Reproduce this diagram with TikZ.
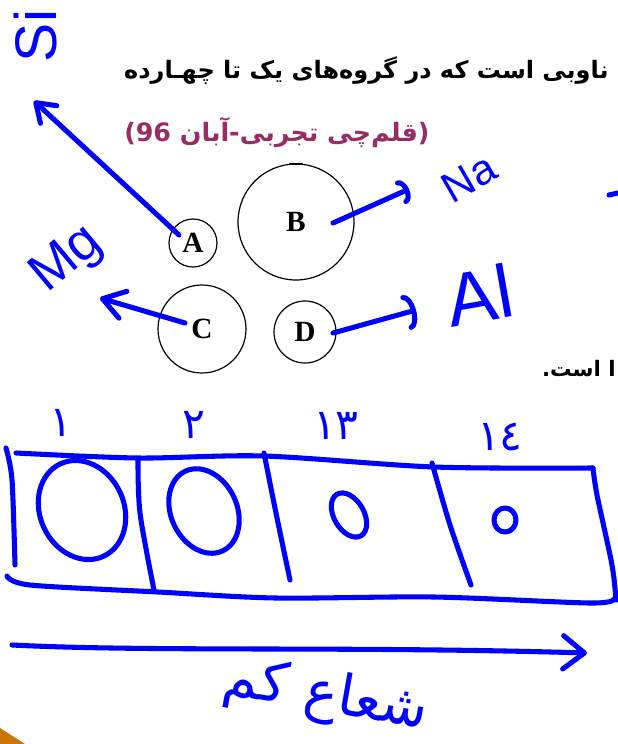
\documentclass[tikz,border=0pt]{standalone}
\usepackage{fontspec}
\usepackage{xcolor}
\usepackage{tikz}
\usetikzlibrary{arrows.meta}
\setmainfont{Liberation Serif}
\newfontfamily\farsi[Script=Arabic]{DejaVu Sans}
\newfontfamily\hand{Liberation Sans}
\TeXXeTstate=1
\definecolor{penblue}{RGB}{0,0,255}
\definecolor{quizpurple}{RGB}{150,45,100}
\definecolor{pageorange}{RGB}{205,115,10}

\begin{document}
\begin{tikzpicture}[x=0.75pt,y=-0.75pt,
  pen/.style={penblue,line width=3.8pt,line cap=round,line join=round},
  barb/.style 2 args={-{Straight Barb[length=#1,width=#2,round]}},
  arcbarb/.style 2 args={-{Arc Barb[length=#1,width=#2,round]}},
  atom/.style={draw,circle,inner sep=0pt,line width=0.9pt,font=\fontsize{22}{22}\selectfont\bfseries},
  scrawl/.style={text=penblue,inner sep=0pt,font=\hand\fontsize{#1}{#1}\selectfont},
  digit/.style={text=penblue,inner sep=0pt,font=\farsi\fontsize{32}{32}\selectfont}]
\useasboundingbox (0,0) rectangle (618,744);
\node[anchor=base east,inner sep=0pt,font=\farsi\bfseries\fontsize{18}{20}\selectfont] (stem) at (609,78) {\beginR ناوبی است که در گروه‌های یک تا چهـارده\endR};
\node[anchor=base west,inner sep=0pt,text=quizpurple,font=\farsi\bfseries\fontsize{19}{21}\selectfont] (source) at (124,141) {\beginR(قلم‌چی تجربی-آبان \beginL96\endL{})\endR};
\node[anchor=base east,inner sep=0pt,font=\farsi\bfseries\fontsize{16}{18}\selectfont] (tail) at (616,376) {\beginR ا است.\endR};

\node[atom,minimum size=36pt] (A) at (193,243) {A};
\node[atom,minimum size=87pt] (B) at (296,222) {B};
\node[atom,minimum size=66pt] (C) at (202,329) {C};
\node[atom,minimum size=46.5pt] (D) at (305,332) {D};
\fill ([xshift=-5pt]B.north) rectangle ([xshift=5pt,yshift=-1.5pt]B.north);

\coordinate (siTip) at (34,101);
\coordinate (naTip) at (409,189);
\coordinate (mgTip) at (100,298);
\coordinate (alTip) at (416,310);
\draw[pen,barb={13pt}{18pt}] ([shift={(-14,-8)}]A.center) -- (siTip);
\draw[pen,arcbarb={6pt}{19pt}] ([shift={(37,1)}]B.center) -- (naTip);
\draw[pen,barb={16pt}{21pt}] ([shift={(-17,-6)}]C.center) -- (mgTip);
\draw[pen,arcbarb={7pt}{27pt}] ([shift={(28,1)}]D.center) -- (alTip);
\node[scrawl=44,rotate=90] (si) at (36,36) {Si};
\node[scrawl=32,rotate=30] (na) at (469,178) {Na};
\node[scrawl=40,rotate=40] (mg) at (68,260) {Mg};
\node[scrawl=56,rotate=10] (al) at (479,295) {Al};

\node[digit] (g1) at (61,423) {١};
\node[digit] (g2) at (194,425) {٢};
\node[digit] (g13) at (336,426) {١٣};
\node[digit] (g14) at (500,437) {١٤};
\draw[pen] plot[smooth] coordinates {(16,453) (138,458) (264,456) (434,467) (593,468)};
\draw[pen] plot[smooth] coordinates {(6,448) (12,480) (15,565)};
\draw[pen] plot[smooth] coordinates {(7,576) (30,585) (158,592) (276,598) (434,597) (590,603) (614,599)};
\draw[pen] plot[smooth] coordinates {(593,468) (597,495) (612,565) (616,600)};
\foreach \ux/\uy/\mx/\my/\lx/\ly in {138/459/140/513/154/590,264/453/276/513/290/580,432/463/450/525/471/585}
  \draw[pen] plot[smooth] coordinates {(\ux,\uy) (\mx,\my) (\lx,\ly)};
\draw[pen,rotate around={25:(82,510)}] (82,510) ellipse[x radius=42,y radius=51];
\draw[pen,rotate around={25:(204,511)}] (204,511) ellipse[x radius=33,y radius=44];
\draw[pen,rotate around={30:(349,515)}] (349,515) ellipse[x radius=15,y radius=24];
\draw[pen] (505,520) ellipse[x radius=11,y radius=12];

\coordinate (rayStart) at (12,645);
\coordinate (rayEnd) at (587,653);
\draw[pen,barb={16pt}{25pt}] (rayStart) .. controls (150,652) and (350,646) .. (rayEnd);
\node[digit,font=\farsi\fontsize{42}{42}\selectfont,rotate=-10] (radius) at (326,697) {\beginR شعاع کم\endR};

\fill[pageorange] (0,728) -- (25,744) -- (0,744) -- cycle;
\draw[pen] (609,195) -- (618,193);
\end{tikzpicture}
\end{document}
